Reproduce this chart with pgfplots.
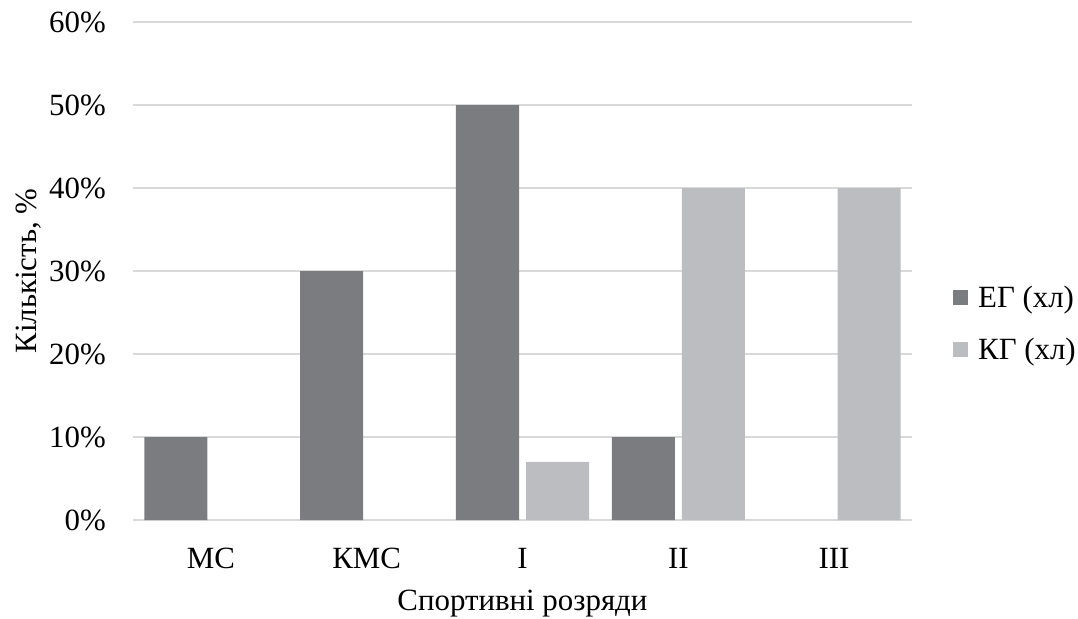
\documentclass[border=0pt]{standalone}
\usepackage{pgfplots}
\pgfplotsset{compat=1.18}
\usepackage{fontspec}
\setmainfont{Liberation Serif}
\definecolor{eg}{HTML}{7B7C80}
\definecolor{kg}{HTML}{BCBDC0}
\definecolor{gridc}{HTML}{D9D9D9}
\begin{document}
\begin{tikzpicture}
\begin{axis}[
  scale only axis,
  width=779bp, height=498bp,
  xmin=-0.5, xmax=4.5,
  ymin=0, ymax=60,
  xtick={0,1,2,3,4},
  xticklabels={МС,КМС,I,II,III},
  ytick={0,10,20,30,40,50,60},
  yticklabels={0\%,10\%,20\%,30\%,40\%,50\%,60\%},
  ymajorgrids,
  grid style={draw=gridc, line width=1.2bp},
  axis line style={draw=none},
  major tick length=0pt,
  tick label style={font=\fontsize{31}{34}\selectfont},
  yticklabel style={anchor=east, inner sep=0pt, xshift=-27bp},
  xticklabel style={anchor=north, inner sep=0pt, yshift=-28bp},
  label style={font=\fontsize{31}{34}\selectfont},
  xlabel={Спортивні розряди},
  xlabel style={at={(axis description cs:0.5,0)}, anchor=base, yshift=-90bp, inner sep=0pt},
  ylabel={Кількість, \%},
  ylabel style={at={(axis description cs:-0.1245,0.5)}, anchor=base, inner sep=0pt, font=\fontsize{31}{34}\selectfont},
  ybar,
  bar width=63bp,
  legend style={draw=none, at={(1.0526,0.395)}, anchor=west,
    font=\fontsize{31}{34}\selectfont, row sep=25bp, inner sep=0pt,
    cells={anchor=west}, /tikz/every odd column/.style={column sep=8bp}},
  legend image code/.code={\fill[#1] (0bp,-7.5bp) rectangle (15bp,7.5bp);},
]
\addplot[fill=eg, draw=none, bar shift=-35bp] coordinates {(0,10) (1,30) (2,50) (3,10)};
\addplot[fill=kg, draw=none, bar shift=35bp] coordinates {(2,7) (3,40) (4,40)};
\legend{ЕГ (хл), КГ (хл)}
\end{axis}
\pgfresetboundingbox
\path (-133bp,-99bp) rectangle (945bp,520bp);
\end{tikzpicture}
\end{document}
